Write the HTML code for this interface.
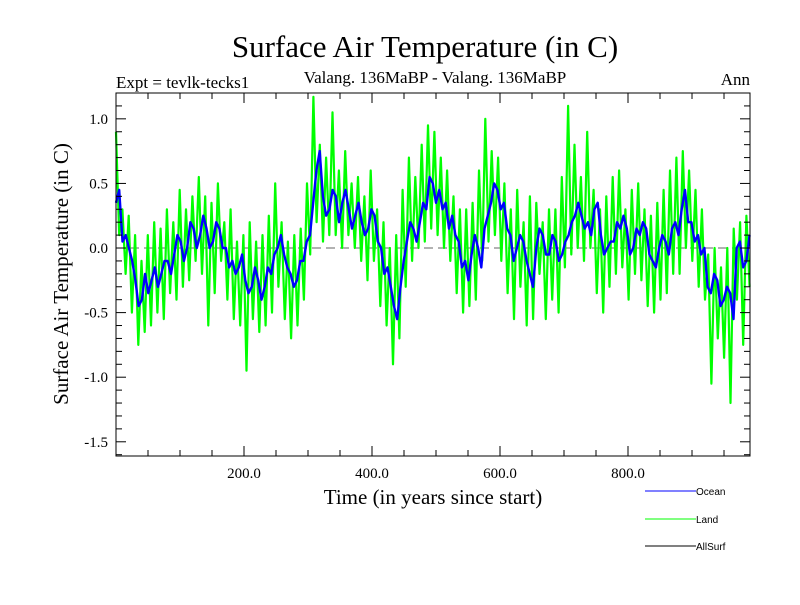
<!DOCTYPE html>
<html><head><meta charset="utf-8"><style>
body{margin:0;background:#fff}
svg text{font-family:"Liberation Serif",serif}
</style></head><body>
<svg id="chart" width="800" height="600" xmlns="http://www.w3.org/2000/svg">
<rect width="800" height="600" fill="#fff"/>
<text x="425" y="57" font-size="31" text-anchor="middle">Surface Air Temperature (in C)</text>
<text x="116" y="88" font-size="17">Expt = tevlk-tecks1</text>
<text x="435" y="83" font-size="17" text-anchor="middle">Valang. 136MaBP - Valang. 136MaBP</text>
<text x="750" y="85" font-size="17" text-anchor="end">Ann</text>
<text x="433" y="504" font-size="21" text-anchor="middle">Time (in years since start)</text>
<text transform="translate(68,274) rotate(-90)" font-size="21" text-anchor="middle">Surface Air Temperature (in C)</text>
<g id="plot"></g>
<g>
<line x1="645" y1="491" x2="696" y2="491" stroke="#0000ff"/>
<text x="696" y="495" font-size="10" style="font-family:'Liberation Sans',sans-serif">Ocean</text>
<line x1="645" y1="519" x2="696" y2="519" stroke="#00ff00"/>
<text x="696" y="523" font-size="10" style="font-family:'Liberation Sans',sans-serif">Land</text>
<line x1="645" y1="546" x2="696" y2="546" stroke="#000"/>
<text x="696" y="550" font-size="10" style="font-family:'Liberation Sans',sans-serif">AllSurf</text>
</g>
</svg>
<script>
const yearStart = 0;
const yearEnd = 990;
const oceanValues = [0.35,0.45,0.05,0.1,0.0,-0.1,-0.25,-0.45,-0.4,-0.2,-0.35,-0.25,-0.15,-0.3,-0.2,-0.1,-0.1,-0.2,-0.05,0.1,0.05,-0.1,0.0,0.2,0.15,0.0,0.1,0.25,0.15,0.0,0.05,0.2,0.15,0.0,0.0,-0.15,-0.1,-0.2,-0.15,-0.05,-0.25,-0.35,-0.3,-0.15,-0.25,-0.4,-0.3,-0.15,-0.2,-0.05,0.0,0.1,-0.05,-0.15,-0.2,-0.3,-0.25,-0.1,-0.1,0.05,0.1,0.35,0.6,0.75,0.4,0.25,0.3,0.45,0.4,0.2,0.35,0.45,0.3,0.15,0.25,0.35,0.2,0.1,0.15,0.3,0.25,0.05,0.0,-0.2,-0.15,-0.3,-0.45,-0.55,-0.3,-0.1,0.05,0.2,0.15,0.05,0.2,0.35,0.3,0.55,0.5,0.35,0.45,0.3,0.35,0.15,0.25,0.1,0.05,-0.15,-0.1,-0.25,-0.05,0.1,0.0,-0.15,0.15,0.25,0.35,0.5,0.45,0.3,0.35,0.15,0.1,-0.1,0.0,0.1,0.05,-0.1,-0.2,-0.3,0.0,0.15,0.1,-0.05,-0.05,0.1,0.05,-0.1,-0.05,0.05,0.1,0.2,0.25,0.35,0.25,0.15,0.2,0.1,0.3,0.35,0.1,-0.05,0.0,0.05,0.05,0.2,0.15,0.25,0.15,-0.05,0.0,0.15,0.1,0.2,0.15,-0.05,-0.1,-0.15,0.0,0.1,0.05,-0.05,0.15,0.2,0.1,0.3,0.45,0.2,0.2,0.05,0.1,-0.05,0.0,-0.3,-0.35,-0.2,-0.25,-0.45,-0.4,-0.3,-0.35,-0.55,0.0,0.05,-0.15,-0.1,0.1];
const landValues = [0.9,0.1,0.3,-0.2,0.25,-0.5,0.1,-0.75,-0.1,-0.65,0.1,-0.6,0.2,-0.5,0.15,-0.55,0.3,-0.35,0.2,-0.4,0.45,-0.3,0.3,-0.25,0.4,-0.1,0.55,-0.2,0.4,-0.6,0.35,-0.35,0.5,-0.1,0.2,-0.4,0.3,-0.55,0.05,-0.6,0.1,-0.95,0.2,-0.55,0.05,-0.65,0.1,-0.6,0.25,-0.5,0.5,-0.3,0.2,-0.55,0.05,-0.7,0.1,-0.6,0.15,-0.4,0.5,-0.05,1.17,0.2,0.8,0.05,0.7,0.1,1.05,0.1,0.6,0.0,0.75,0.1,0.5,0.0,0.55,-0.1,0.4,-0.25,0.6,-0.1,0.3,-0.45,0.2,-0.6,0.0,-0.9,0.1,-0.7,0.45,-0.3,0.7,-0.1,0.55,0.0,0.8,0.05,0.95,0.15,0.9,0.1,0.7,0.0,0.6,-0.1,0.4,-0.35,0.3,-0.5,0.3,-0.45,0.35,-0.4,0.6,-0.1,1.0,0.05,0.75,0.1,0.7,-0.1,0.5,-0.35,0.3,-0.55,0.45,-0.3,0.2,-0.6,0.4,-0.55,0.35,-0.2,0.2,-0.55,0.3,-0.4,0.3,-0.5,0.55,-0.15,1.1,-0.05,0.8,0.0,0.55,-0.1,0.9,0.0,0.45,-0.35,0.3,-0.5,0.4,-0.3,0.55,-0.2,0.6,-0.15,0.3,-0.4,0.45,-0.2,0.5,-0.25,0.3,-0.45,0.25,-0.5,0.35,-0.4,0.45,-0.35,0.6,-0.2,0.7,-0.2,0.75,0.0,0.6,-0.1,0.45,-0.3,0.3,-0.4,-0.05,-1.05,0.0,-0.7,-0.15,-0.85,0.0,-1.2,0.15,-0.4,0.2,-0.75,0.25,-0.3];
const xTicks = [200,400,600,800];
const xTickLabels = ["200.0","400.0","600.0","800.0"];
const yTicks = [1.0,0.5,0.0,-0.5,-1.0,-1.5];
const yTickLabels = ["1.0","0.5","0.0","-0.5","-1.0","-1.5"];

const L=116,R=750,T=93,B=456;
const xMin=0,xMax=990.6,yMin=-1.61,yMax=1.2;
const xs=v=>L+(v-xMin)/(xMax-xMin)*(R-L);
const ys=v=>T+(yMax-v)/(yMax-yMin)*(B-T);
const NS="http://www.w3.org/2000/svg";
const g=document.getElementById('plot');
function mk(tag,attrs){const e=document.createElementNS(NS,tag);for(const k in attrs)e.setAttribute(k,attrs[k]);g.appendChild(e);return e;}

const zero=mk('line',{x1:L,x2:R,y1:ys(0),y2:ys(0),stroke:'#666','stroke-dasharray':'9,5','stroke-width':1});



function series(vals,color,w,name){
  const n=vals.length;
  const yr=i=>yearStart+i*(yearEnd-yearStart)/(n-1);
  const d=vals.map((v,i)=>(i?'L':'M')+xs(yr(i)).toFixed(1)+','+ys(v).toFixed(1)).join('');
  const p=mk('path',{d:d,fill:'none',stroke:color,'stroke-width':w,'stroke-linejoin':'round'});
  
  
}
series(landValues,'#00ff00',2.2,'land-series');
series(oceanValues,'#0000ff',2.4,'ocean-series');

const frame=mk('rect',{x:L,y:T,width:R-L,height:B-T,fill:'none',stroke:'#000','stroke-width':1});



for(let v=50;v<xMax;v+=50){
  const maj=v%200===0, len=maj?10:6, x=xs(v);
  mk('line',{x1:x,x2:x,y1:B,y2:B-len,stroke:'#000'});
  mk('line',{x1:x,x2:x,y1:T,y2:T+len,stroke:'#000'});
}
for(let k=-16;k<=12;k++){
  const v=k/10, maj=k%5===0, len=maj?10:6, y=ys(v);
  if(y<T||y>B)continue;
  mk('line',{x1:L,x2:L+len,y1:y,y2:y,stroke:'#000'});
  mk('line',{x1:R,x2:R-len,y1:y,y2:y,stroke:'#000'});
}
xTicks.forEach((v,i)=>{
  const t=mk('text',{x:xs(v),y:B+22,'font-size':15,'text-anchor':'middle'});
  t.textContent=xTickLabels[i];
  
  
});
yTicks.forEach((v,i)=>{
  const t=mk('text',{x:L-8,y:ys(v)+5,'font-size':15,'text-anchor':'end'});
  t.textContent=yTickLabels[i];
  
  
});
</script>
</body></html>
